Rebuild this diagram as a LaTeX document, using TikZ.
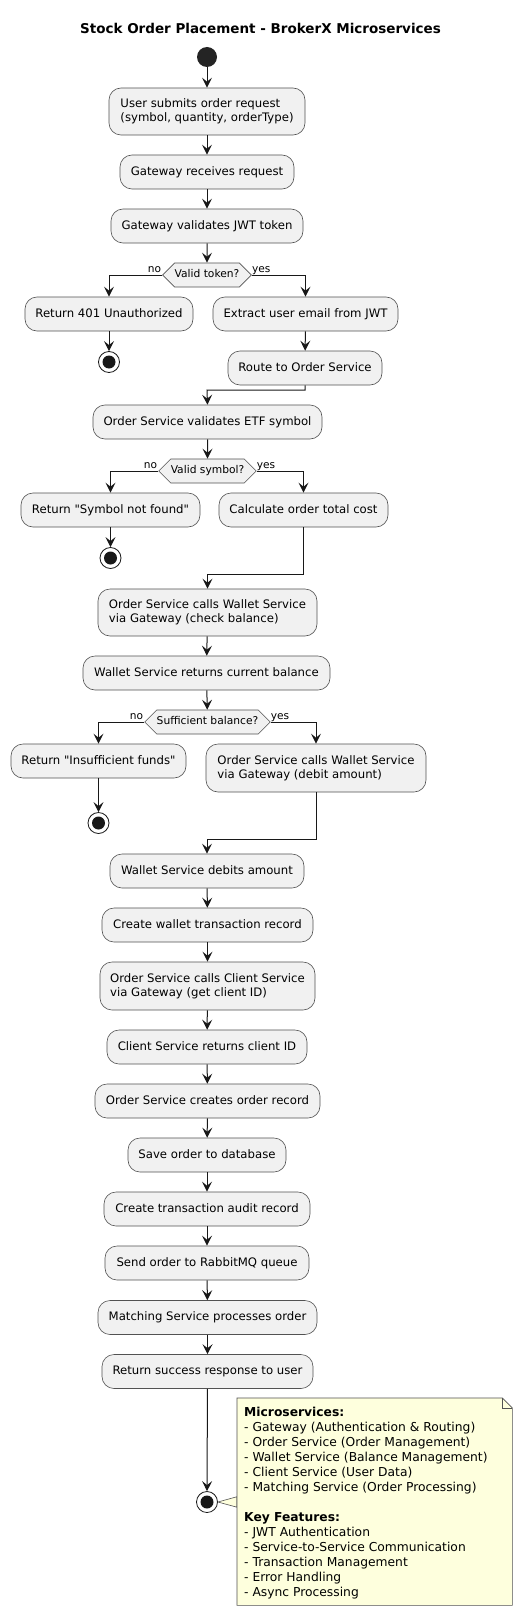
\documentclass[tikz,border=0pt]{standalone}
\usepackage{fontspec}
\setmainfont{DejaVu Sans}[Ligatures=TeXOff]
\usetikzlibrary{arrows.meta,shapes.symbols}
\definecolor{boxfill}{HTML}{F1F1F1}
\definecolor{ink}{HTML}{181818}
\definecolor{notefill}{HTML}{FEFFDD}
\tikzset{
  act/.style={rectangle, rounded corners=12pt, draw=ink!75, line width=0.6pt, fill=boxfill,
    font=\fontsize{11.7pt}{13.6pt}\selectfont, inner xsep=2pt, inner ysep=0pt,
    minimum height=34pt, align=left},
  one/.style={text height=8.9pt, text depth=2.5pt},
  hex/.style={signal, signal to=east and west, draw=ink!75, fill=boxfill, line width=0.6pt,
    font=\fontsize{10.7pt}{12pt}\selectfont, inner xsep=0pt, inner ysep=0pt, minimum height=24pt,
    text height=8pt, text depth=2.5pt},
  flow/.style={-{Stealth[length=10pt,width=10pt,inset=4pt]}, draw=ink, line width=1pt},
  startdot/.style={circle, fill=ink!95, minimum size=20pt, inner sep=0pt},
  enddot/.style={circle, draw=ink, fill=white, line width=0.8pt, minimum size=21pt, inner sep=0pt,
    path picture={\fill[ink] (path picture bounding box.center) circle (6.5pt);}},
  lbl/.style={font=\fontsize{10.6pt}{12pt}\selectfont, inner sep=0pt},
  notebox/.style={draw=ink!75, fill=notefill, line width=0.6pt},
  notetext/.style={font=\fontsize{12.3pt}{15pt}\selectfont, align=left, inner sep=0pt},
}
\begin{document}
\begin{tikzpicture}[x=1pt,y=-1pt]
\useasboundingbox (0,0) rectangle (532,1616);
\fill[white] (0,0) rectangle (532,1616);

\node[font=\bfseries\fontsize{13.5pt}{16pt}\selectfont, anchor=base] (title) at (260.5,33.3) {Stock Order Placement - BrokerX Microservices};

\node[startdot] (start) at (207,57) {};
\node[act, minimum width=196pt, minimum height=47pt] (b1) at (207,111.5) {User submits order request\\(symbol, quantity, orderType)};
\node[act, one, minimum width=174pt] (b2) at (207,172) {Gateway receives request};
\node[act, one, minimum width=192pt] (b3) at (207,226) {Gateway validates JWT token};
\node[hex] (d1) at (207,275) {Valid token?};
\node[lbl, anchor=base east] (d1no) at ([xshift=-1pt,yshift=2.5pt]d1.west) {no};
\node[lbl, anchor=base west] (d1yes) at ([yshift=2.5pt]d1.east) {yes};
\node[act, one, minimum width=168pt] (b4) at (109,314) {Return 401 Unauthorized};
\node[enddot] (e1) at (109,362) {};
\node[act, one, minimum width=185pt] (b5) at (305.5,314) {Extract user email from JWT};
\node[act, one, minimum width=154pt] (b6) at (305,368) {Route to Order Service};
\coordinate (m1) at (207,390);
\node[act, one, minimum width=229pt] (b7) at (207.5,422) {Order Service validates ETF symbol};
\node[hex] (d2) at (207.5,471) {Valid symbol?};
\node[lbl, anchor=base east] (d2no) at ([xshift=-1pt,yshift=2.5pt]d2.west) {no};
\node[lbl, anchor=base west] (d2yes) at ([yshift=2.5pt]d2.east) {yes};
\node[act, one, minimum width=179pt] (b8) at (110.5,510) {Return "Symbol not found"};
\node[enddot] (e2) at (110.5,558) {};
\node[act, one, minimum width=169pt] (b9) at (303.5,510) {Calculate order total cost};
\coordinate (m2) at (207.5,574);
\node[act, minimum width=219pt, minimum height=47pt] (b10) at (207.5,612.5) {Order Service calls Wallet Service\\via Gateway (check balance)};
\node[act, one, minimum width=247pt] (b11) at (206.5,673) {Wallet Service returns current balance};
\node[hex] (d3) at (207.5,722) {Sufficient balance?};
\node[lbl, anchor=base east] (d3no) at ([xshift=-1pt,yshift=2.5pt]d3.west) {no};
\node[lbl, anchor=base west] (d3yes) at ([yshift=2.5pt]d3.east) {yes};
\node[act, one, minimum width=175pt] (b12) at (98.5,761) {Return "Insufficient funds"};
\node[enddot] (e3) at (98.5,823) {};
\node[act, minimum width=220pt, minimum height=48pt] (b13) at (316,768) {Order Service calls Wallet Service\\via Gateway (debit amount)};
\coordinate (m3) at (207,839);
\node[act, one, minimum width=194pt] (b14) at (207,871) {Wallet Service debits amount};
\node[act, one, minimum width=211pt] (b15) at (207.5,925) {Create wallet transaction record};
\node[act, minimum width=215pt, minimum height=48pt] (b16) at (207.5,986) {Order Service calls Client Service\\via Gateway (get client ID)};
\node[act, one, minimum width=200pt] (b17) at (207,1047) {Client Service returns client ID};
\node[act, one, minimum width=225pt] (b18) at (207.5,1101) {Order Service creates order record};
\node[act, one, minimum width=158pt] (b19) at (207,1155) {Save order to database};
\node[act, one, minimum width=206pt] (b20) at (207,1209) {Create transaction audit record};
\node[act, one, minimum width=204pt] (b21) at (207,1263) {Send order to RabbitMQ queue};
\node[act, one, minimum width=219pt] (b22) at (207.5,1317.5) {Matching Service processes order};
\node[act, one, minimum width=211pt] (b23) at (207.5,1371.5) {Return success response to user};
\node[enddot] (e4) at (207,1502) {};

% note
\node[minimum width=275pt, minimum height=207pt, inner sep=0pt, anchor=north west] (note) at (237,1398) {};
\filldraw[notebox] (e4.east) -- ([yshift=5pt]note.west) -- ([yshift=-5.5pt]note.west) -- cycle;
\filldraw[notebox] (note.north west) -- ([xshift=-10pt]note.north east) -- ([yshift=-10pt]note.north east) -- (note.south east) -- (note.south west) -- cycle;
\draw[draw=ink!75, line width=0.6pt] ([xshift=-10pt]note.north east) -- ([xshift=-10pt,yshift=-10pt]note.north east) -- ([yshift=-10pt]note.north east);
\node[notetext, anchor=north west] (ntext) at (244,1406.5) {\textbf{Microservices:}\\
- Gateway (Authentication \& Routing)\\
- Order Service (Order Management)\\
- Wallet Service (Balance Management)\\
- Client Service (User Data)\\
- Matching Service (Order Processing)\\[15pt]
\textbf{Key Features:}\\
- JWT Authentication\\
- Service-to-Service Communication\\
- Transaction Management\\
- Error Handling\\
- Async Processing};

% connectors
\draw[flow] (start) -- (b1);
\draw[flow] (b1) -- (b2);
\draw[flow] (b2) -- (b3);
\draw[flow] (b3) -- (d1);
\draw[flow] (d1.west) -| (b4.north);
\draw[flow] (d1.east) -| (b5.north);
\draw[flow] (b4) -- (e1);
\draw[flow] (b5) -- (b6);
\draw[flow] (b6.south) |- (m1) -- (b7.north);
\draw[flow] (b7) -- (d2);
\draw[flow] (d2.west) -| (b8.north);
\draw[flow] (d2.east) -| (b9.north);
\draw[flow] (b8) -- (e2);
\draw[flow] (b9.south) |- (m2) -- (b10.north);
\draw[flow] (b10) -- (b11);
\draw[flow] (b11) -- (d3);
\draw[flow] (d3.west) -| (b12.north);
\draw[flow] (d3.east) -| (b13.north);
\draw[flow] (b12) -- (e3);
\draw[flow] (b13.south) |- (m3) -- (b14.north);
\draw[flow] (b14) -- (b15);
\draw[flow] (b15) -- (b16);
\draw[flow] (b16) -- (b17);
\draw[flow] (b17) -- (b18);
\draw[flow] (b18) -- (b19);
\draw[flow] (b19) -- (b20);
\draw[flow] (b20) -- (b21);
\draw[flow] (b21) -- (b22);
\draw[flow] (b22) -- (b23);
\draw[flow] (b23) -- (e4);
\end{tikzpicture}
\end{document}
